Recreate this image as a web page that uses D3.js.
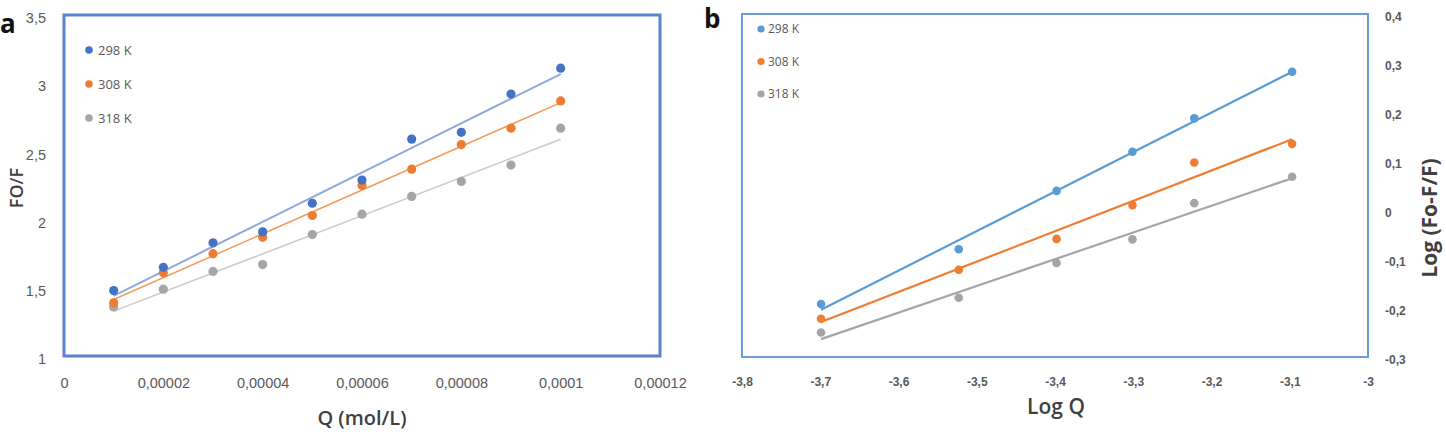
<!DOCTYPE html>
<html><head><meta charset="utf-8">
<script src="https://cdn.jsdelivr.net/npm/d3@7"></script>
<style>html,body{margin:0;padding:0;background:#fff;}svg{display:block;font-family:"Open Sans",sans-serif;}</style>
</head><body>
<svg id="c" width="1446" height="434"></svg>
<script>
// ---------- Panel a data ----------
const seriesNames = ["298 K", "308 K", "318 K"];
const qValues = [0.00001,0.00002,0.00003,0.00004,0.00005,0.00006,0.00007,0.00008,0.00009,0.0001];
const fo298 = [1.48,1.65,1.83,1.91,2.12,2.29,2.59,2.64,2.92,3.11];
const fo308 = [1.39,1.61,1.75,1.87,2.03,2.25,2.37,2.55,2.67,2.87];
const fo318 = [1.36,1.49,1.62,1.67,1.89,2.04,2.17,2.28,2.40,2.67];
const aXTicks = [0,0.00002,0.00004,0.00006,0.00008,0.0001,0.00012];
const aXTickLabels = ["0","0,00002","0,00004","0,00006","0,00008","0,0001","0,00012"];
const aYTicks = [1,1.5,2,2.5,3,3.5];
const aYTickLabels = ["1","1,5","2","2,5","3","3,5"];
// ---------- Panel b data ----------
const logQ = [-3.699,-3.523,-3.398,-3.301,-3.222,-3.097];
const lg298 = [-0.192,-0.080,0.039,0.119,0.187,0.282];
const lg308 = [-0.222,-0.122,-0.059,0.010,0.097,0.135];
const lg318 = [-0.250,-0.179,-0.108,-0.060,0.014,0.068];
const bXTicks = [-3.8,-3.7,-3.6,-3.5,-3.4,-3.3,-3.2,-3.1,-3];
const bXTickLabels = ["-3,8","-3,7","-3,6","-3,5","-3,4","-3,3","-3,2","-3,1","-3"];
const bYTicks = [-0.3,-0.2,-0.1,0,0.1,0.2,0.3,0.4];
const bYTickLabels = ["-0,3","-0,2","-0,1","0","0,1","0,2","0,3","0,4"];

const svg = d3.select("#c");
const txt = "#595959";

function fit(xs, ys){
  const n = xs.length, mx = d3.mean(xs), my = d3.mean(ys);
  let sxy = 0, sxx = 0;
  for (let i=0;i<n;i++){ sxy += (xs[i]-mx)*(ys[i]-my); sxx += (xs[i]-mx)**2; }
  const m = sxy/sxx; return {m, b: my - m*mx};
}

// ================= Panel a =================
(function(){
  const x = d3.scaleLinear().domain([0,0.00012]).range([64,660]);
  const y = d3.scaleLinear().domain([1,3.5]).range([356,15]);
  const g = svg.append("g");
  const series = [
    {name: seriesNames[0], vals: fo298, dot:"#4472C4", line:"#8EA9DB", lw:2},
    {name: seriesNames[1], vals: fo308, dot:"#ED7D31", line:"#F19A5C", lw:1.5},
    {name: seriesNames[2], vals: fo318, dot:"#A5A5A5", line:"#C9C9C9", lw:1.5}
  ];
  g.append("rect").attr("x",x(0)).attr("y",y(3.5)).attr("width",x(0.00012)-x(0)).attr("height",y(1)-y(3.5))
    .attr("fill","none").attr("stroke","#5B82CF").attr("stroke-width",3);
  const xa = d3.axisBottom(x).tickValues(aXTicks).tickFormat((d,i)=>aXTickLabels[i]).tickSize(0).tickPadding(0);
  const gx = g.append("g").attr("transform","translate(0,388)").call(xa);
  gx.select(".domain").remove();
  gx.selectAll("text").attr("fill",txt).style("font-size","14.5px").attr("dy","0");
  const ya = d3.axisLeft(y).tickValues(aYTicks).tickFormat((d,i)=>aYTickLabels[i]).tickSize(0).tickPadding(0);
  const gy = g.append("g").attr("transform","translate(46,3)").call(ya);
  gy.select(".domain").remove();
  gy.selectAll("text").attr("fill",txt).style("font-size","14.5px");
  series.forEach(s=>{
    const f = fit(qValues, s.vals);
    const x0 = d3.min(qValues), x1 = d3.max(qValues);
    g.append("line").attr("x1",x(x0)).attr("y1",y(f.m*x0+f.b)).attr("x2",x(x1)).attr("y2",y(f.m*x1+f.b))
      .attr("stroke",s.line).attr("stroke-width",s.lw);
  });
  series.slice().reverse().forEach(s=>{
    g.selectAll(null).data(qValues).enter().append("circle")
      .attr("cx",d=>x(d)).attr("cy",(d,i)=>y(s.vals[i])).attr("r",4.6).attr("fill",s.dot);
  });
  series.forEach((s,i)=>{
    const ly = 50 + i*34;
    g.append("circle").attr("cx",89).attr("cy",ly).attr("r",3.8).attr("fill",s.dot);
    g.append("text").attr("x",98).attr("y",ly+4.5).attr("fill",txt).style("font-size","13px").text(s.name);
  });
  g.append("text").attr("x",362).attr("y",425).attr("text-anchor","middle").attr("fill","#404040")
    .style("font-size","20px").style("font-weight","600").text("Q (mol/L)");
  g.append("text").attr("transform","translate(23,188) rotate(-90)").attr("text-anchor","middle").attr("fill","#404040")
    .style("font-size","18px").style("font-weight","600").text("FO/F");
  g.append("text").attr("x",0).attr("y",33).attr("fill","#111").style("font-size","26px").style("font-weight","bold").text("a");
})();

// ================= Panel b =================
(function(){
  const x = d3.scaleLinear().domain([-3.8,-3]).range([742,1368]);
  const y = d3.scaleLinear().domain([-0.3,0.4]).range([357,14]);
  const g = svg.append("g");
  const series = [
    {name: seriesNames[0], vals: lg298, c:"#5B9BD5"},
    {name: seriesNames[1], vals: lg308, c:"#ED7D31"},
    {name: seriesNames[2], vals: lg318, c:"#A5A5A5"}
  ];
  g.append("rect").attr("x",x(-3.8)).attr("y",y(0.4)).attr("width",x(-3)-x(-3.8)).attr("height",y(-0.3)-y(0.4))
    .attr("fill","none").attr("stroke","#6E9BD8").attr("stroke-width",2);
  const xa = d3.axisBottom(x).tickValues(bXTicks).tickFormat((d,i)=>bXTickLabels[i]).tickSize(0).tickPadding(0);
  const gx = g.append("g").attr("transform","translate(0,386)").call(xa);
  gx.select(".domain").remove();
  gx.selectAll("text").attr("fill",txt).style("font-size","12px").style("font-weight","600").attr("dy","0");
  const ya = d3.axisRight(y).tickValues(bYTicks).tickFormat((d,i)=>bYTickLabels[i]).tickSize(0).tickPadding(0);
  const gy = g.append("g").attr("transform","translate(1385,3)").call(ya);
  gy.select(".domain").remove();
  gy.selectAll("text").attr("fill",txt).style("font-size","12px").style("font-weight","600");
  series.forEach(s=>{
    const f = fit(logQ, s.vals);
    const x0 = d3.min(logQ), x1 = d3.max(logQ);
    g.append("line").attr("x1",x(x0)).attr("y1",y(f.m*x0+f.b)).attr("x2",x(x1)).attr("y2",y(f.m*x1+f.b))
      .attr("stroke",s.c).attr("stroke-width",2.2);
  });
  series.forEach(s=>{
    g.selectAll(null).data(logQ).enter().append("circle")
      .attr("cx",d=>x(d)).attr("cy",(d,i)=>y(s.vals[i])).attr("r",4.3).attr("fill",s.c);
  });
  series.forEach((s,i)=>{
    const ly = 29 + i*32.5;
    g.append("circle").attr("cx",761).attr("cy",ly).attr("r",3.6).attr("fill",s.c);
    g.append("text").attr("x",768).attr("y",ly+4.3).attr("fill",txt).style("font-size","12px").text(s.name);
  });
  g.append("text").attr("x",1056).attr("y",414).attr("text-anchor","middle").attr("fill","#404040")
    .style("font-size","21px").style("font-weight","600").text("Log Q");
  g.append("text").attr("transform","translate(1437,218) rotate(-90)").attr("text-anchor","middle").attr("fill","#404040")
    .style("font-size","21px").style("font-weight","bold").text("Log (Fo-F/F)");
  g.append("text").attr("x",704).attr("y",28).attr("fill","#111").style("font-size","26px").style("font-weight","bold").text("b");
})();
</script>
</body></html>
